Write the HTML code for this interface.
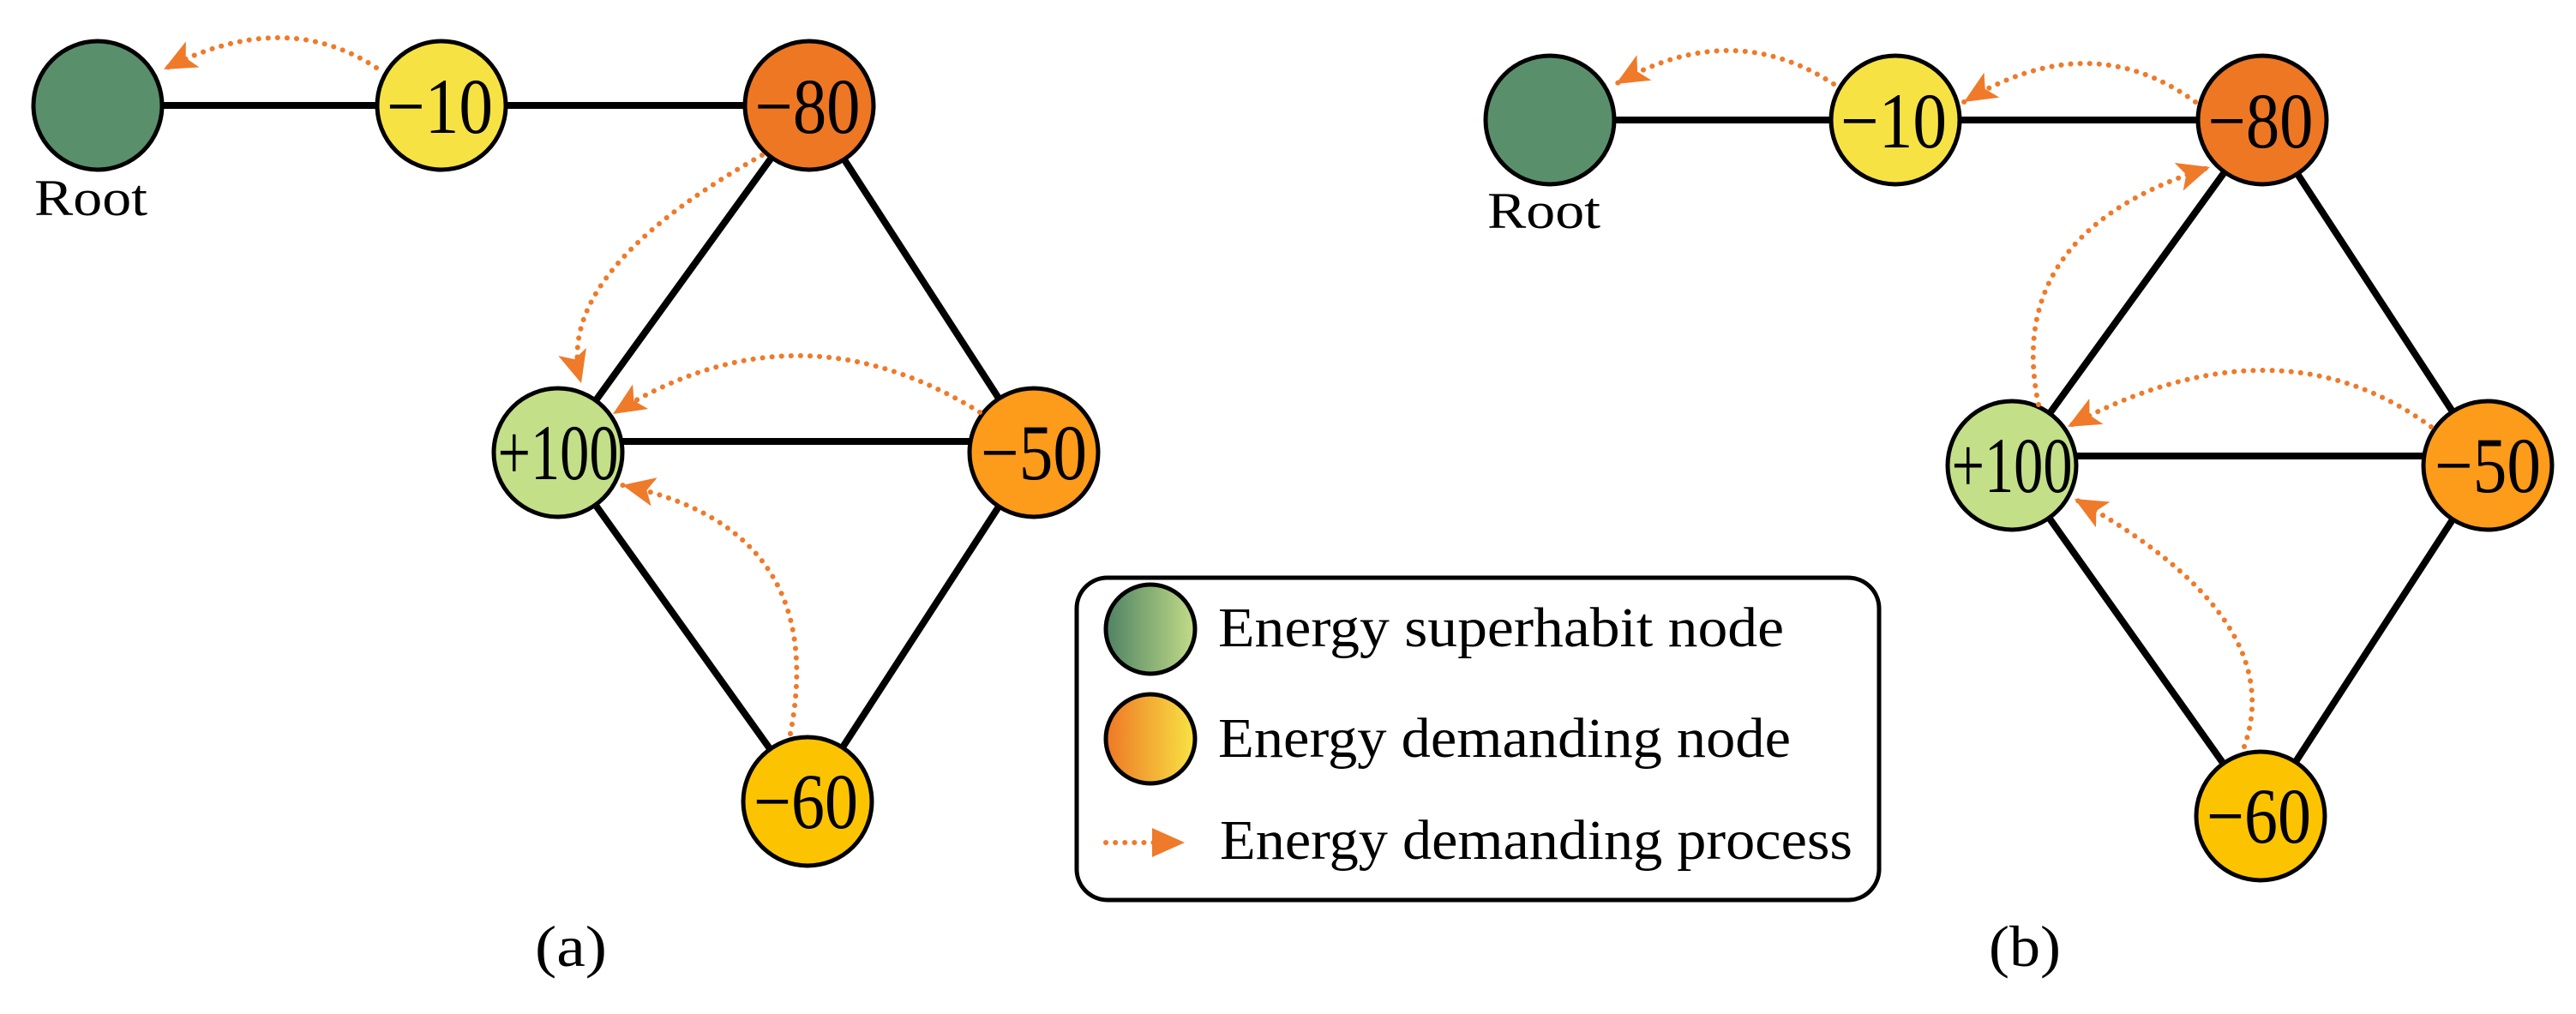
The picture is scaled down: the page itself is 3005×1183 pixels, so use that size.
<!DOCTYPE html>
<html><head><meta charset="utf-8"><style>html,body{margin:0;padding:0;background:#fff}svg{display:block}</style></head>
<body>
<svg width="3005" height="1183" viewBox="0 0 3005 1183" xmlns="http://www.w3.org/2000/svg" font-family="'Liberation Serif', serif">
<defs>
<marker id="ah" markerUnits="userSpaceOnUse" markerWidth="44" markerHeight="44" refX="38" refY="17" orient="auto">
<path d="M0,0 L38,17 L0,34 L9,17 Z" fill="#ef7a2a"/>
</marker>
<linearGradient id="g1" x1="0" x2="1" y1="0" y2="0"><stop offset="0" stop-color="#4e8264"/><stop offset="1" stop-color="#c3dc88"/></linearGradient>
<linearGradient id="g2" x1="0" x2="1" y1="0" y2="0"><stop offset="0" stop-color="#ee7726"/><stop offset="1" stop-color="#f8e444"/></linearGradient>
</defs>
<g stroke="#000" stroke-width="8" fill="none">
<line x1="114" y1="123" x2="944" y2="123"/>
<line x1="944" y1="123" x2="651" y2="528"/>
<line x1="944" y1="123" x2="1206" y2="528"/>
<line x1="651" y1="515" x2="1206" y2="515"/>
<line x1="651" y1="528" x2="942" y2="935"/>
<line x1="1206" y1="528" x2="942" y2="935"/>
<line x1="1808" y1="140" x2="2639" y2="140"/>
<line x1="2639" y1="140" x2="2347" y2="543"/>
<line x1="2639" y1="140" x2="2902" y2="543"/>
<line x1="2347" y1="532" x2="2902" y2="532"/>
<line x1="2347" y1="543" x2="2637" y2="952"/>
<line x1="2902" y1="543" x2="2637" y2="952"/>
</g>
<g stroke="#000" stroke-width="5">
<circle cx="114" cy="123" r="75" fill="#5a8f6c"/>
<circle cx="515" cy="123" r="75" fill="#f7e244"/>
<circle cx="944" cy="123" r="75" fill="#ee7724"/>
<circle cx="651" cy="528" r="75" fill="#c3df88"/>
<circle cx="1206" cy="528" r="75" fill="#fd9b1a"/>
<circle cx="942" cy="935" r="75" fill="#fcc400"/>
<circle cx="1808" cy="140" r="75" fill="#5a8f6c"/>
<circle cx="2211" cy="140" r="75" fill="#f7e244"/>
<circle cx="2639" cy="140" r="75" fill="#ee7724"/>
<circle cx="2347" cy="543" r="75" fill="#c3df88"/>
<circle cx="2902" cy="543" r="75" fill="#fd9b1a"/>
<circle cx="2637" cy="952" r="75" fill="#fcc400"/>
</g>
<g font-size="92" text-anchor="middle" fill="#000">
<text x="513" y="155" textLength="124" lengthAdjust="spacingAndGlyphs">−10</text>
<text x="942" y="155" textLength="123" lengthAdjust="spacingAndGlyphs">−80</text>
<text x="651" y="559" textLength="141" lengthAdjust="spacingAndGlyphs">+100</text>
<text x="1206" y="559" textLength="124" lengthAdjust="spacingAndGlyphs">−50</text>
<text x="940" y="966" textLength="122" lengthAdjust="spacingAndGlyphs">−60</text>
<text x="2209" y="172" textLength="124" lengthAdjust="spacingAndGlyphs">−10</text>
<text x="2637" y="172" textLength="123" lengthAdjust="spacingAndGlyphs">−80</text>
<text x="2347" y="574" textLength="141" lengthAdjust="spacingAndGlyphs">+100</text>
<text x="2902" y="574" textLength="124" lengthAdjust="spacingAndGlyphs">−50</text>
<text x="2635" y="983" textLength="122" lengthAdjust="spacingAndGlyphs">−60</text>
</g>
<g font-size="60" fill="#000">
<text x="40" y="251" textLength="132" lengthAdjust="spacingAndGlyphs">Root</text>
<text x="1735" y="266" textLength="132" lengthAdjust="spacingAndGlyphs">Root</text>
</g>
<g font-size="68" fill="#000" text-anchor="middle">
<text x="666" y="1127" textLength="84" lengthAdjust="spacingAndGlyphs">(a)</text>
<text x="2362" y="1127" textLength="84" lengthAdjust="spacingAndGlyphs">(b)</text>
</g>
<g fill="none" stroke="#ef7a2a" stroke-width="6" stroke-dasharray="0.1 11" stroke-linecap="round" marker-end="url(#ah)">
<path d="M439,79 Q331,8 191,81"/>
<path d="M889,181 Q642,320 678,447"/>
<path d="M1143,481 Q929,348 715,483"/>
<path d="M922,856 Q968,617 726,566"/>
<path d="M2139,98 Q2020,20 1885,98"/>
<path d="M2561,119 Q2438,29 2291,119"/>
<path d="M2378,472 Q2336,270 2578,195"/>
<path d="M2836,498 Q2656,366 2412,498"/>
<path d="M2618,871 Q2671,721 2420,582"/>
</g>
<rect x="1256" y="674" width="936" height="376" rx="36" ry="36" fill="none" stroke="#000" stroke-width="5"/>
<circle cx="1342" cy="734" r="52" fill="url(#g1)" stroke="#000" stroke-width="5"/>
<circle cx="1342" cy="862" r="52" fill="url(#g2)" stroke="#000" stroke-width="5"/>
<line x1="1290" y1="983" x2="1346" y2="983" stroke="#ef7a2a" stroke-width="6" stroke-dasharray="0.1 11" stroke-linecap="round"/>
<path d="M1344,966 L1382,983 L1344,1000 Z" fill="#ef7a2a"/>
<g font-size="66" fill="#000">
<text x="1421" y="754" textLength="660" lengthAdjust="spacingAndGlyphs">Energy superhabit node</text>
<text x="1421" y="883" textLength="668" lengthAdjust="spacingAndGlyphs">Energy demanding node</text>
<text x="1423" y="1002" textLength="738" lengthAdjust="spacingAndGlyphs">Energy demanding process</text>
</g>
</svg>
</body></html>
